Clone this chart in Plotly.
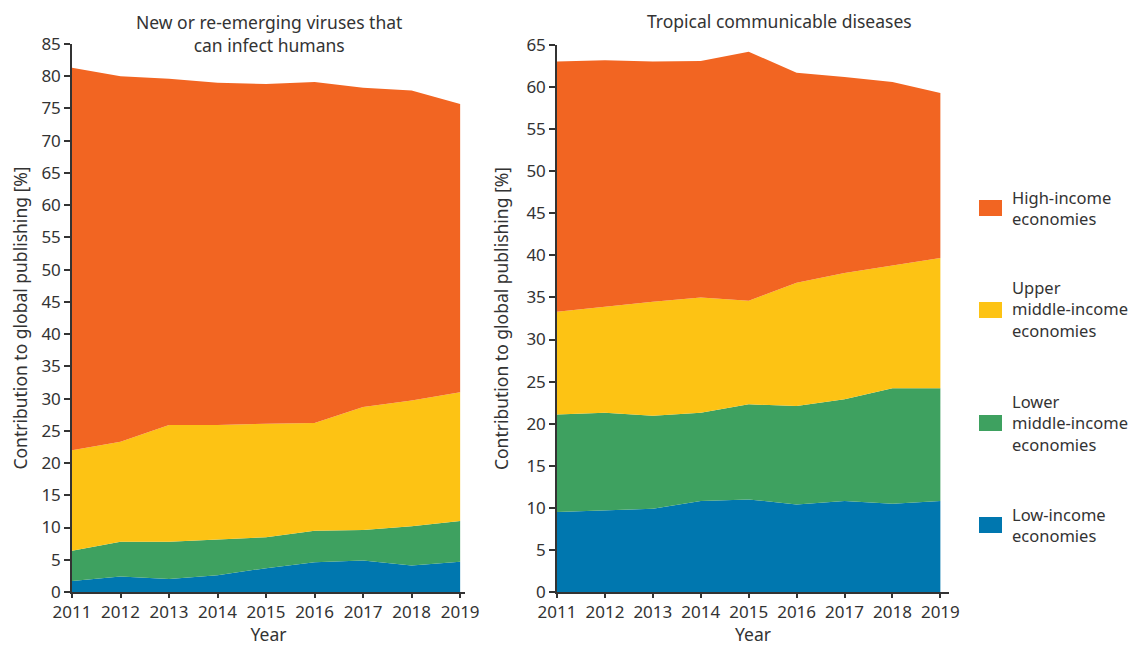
import plotly.graph_objects as go
from plotly.subplots import make_subplots

years = [2011, 2012, 2013, 2014, 2015, 2016, 2017, 2018, 2019]

series_names = ["Low-income economies", "Lower middle-income economies",
                "Upper middle-income economies", "High-income economies"]
legend_labels = ["Low-income<br>economies", "Lower<br>middle-income<br>economies",
                 "Upper<br>middle-income<br>economies", "High-income<br>economies"]
colors = ["#0077AF", "#3EA160", "#FDC314", "#F26522"]

# Left: New or re-emerging viruses that can infect humans (%)
viruses_low = [1.7, 2.4, 2.0, 2.6, 3.7, 4.6, 4.9, 4.1, 4.7]
viruses_lower_mid = [4.7, 5.4, 5.8, 5.6, 4.8, 4.9, 4.7, 6.1, 6.3]
viruses_upper_mid = [15.6, 15.5, 18.1, 17.7, 17.6, 16.7, 19.1, 19.5, 20.0]
viruses_high = [59.3, 56.7, 53.7, 53.1, 52.7, 52.9, 49.5, 48.1, 44.7]

# Right: Tropical communicable diseases (%)
tropical_low = [9.5, 9.7, 9.9, 10.8, 11.0, 10.4, 10.8, 10.5, 10.8]
tropical_lower_mid = [11.6, 11.6, 11.05, 10.5, 11.3, 11.7, 12.1, 13.7, 13.4]
tropical_upper_mid = [12.2, 12.6, 13.55, 13.7, 12.3, 14.65, 15.0, 14.6, 15.5]
tropical_high = [29.75, 29.3, 28.55, 28.1, 29.6, 24.95, 23.3, 21.8, 19.6]

left_titles = "New or re-emerging viruses that<br>can infect humans"
right_title = "Tropical communicable diseases"
y_title = "Contribution to global publishing [%]"
x_title = "Year"

FONT = "Noto Sans"
FS = 17.5
FS_TICK = 17
FS_LEG = 16.5
TXT = "#333333"

fig = make_subplots(rows=1, cols=2, horizontal_spacing=0.105)

left_data = [viruses_low, viruses_lower_mid, viruses_upper_mid, viruses_high]
right_data = [tropical_low, tropical_lower_mid, tropical_upper_mid, tropical_high]

for i, vals in enumerate(left_data):
    fig.add_trace(go.Scatter(x=years, y=vals, name=series_names[i], mode="lines",
                             line=dict(width=0, color=colors[i]), fillcolor=colors[i],
                             stackgroup="left", showlegend=False), row=1, col=1)
for i, vals in enumerate(right_data):
    fig.add_trace(go.Scatter(x=years, y=vals, name=series_names[i], mode="lines",
                             line=dict(width=0, color=colors[i]), fillcolor=colors[i],
                             stackgroup="right", showlegend=False), row=1, col=2)

# the page body adds an 8px offset; compensate so positions match the window
OFF = 8
W, H = 1142 - OFF, 646 - OFF
ML, MT = 72 - OFF, 44 - OFF
MB = H - (592 - OFF)
MR = W - (949 - OFF)
PW = W - ML - MR
PH = H - MT - MB

def px_x(px):
    return (px - OFF - ML) / PW

def px_y(py):
    return (H - MB - (py - OFF)) / PH

axis_common = dict(showline=True, linecolor="#333333", linewidth=1.5, ticks="outside",
                   tickwidth=1.5, tickcolor="#333333", showgrid=False,
                   zeroline=False, automargin=False,
                   tickfont=dict(family=FONT, size=FS_TICK, color=TXT))

fig.update_xaxes(**axis_common, ticklen=4, ticklabelstandoff=0,
                 tickvals=years, ticktext=[str(y) for y in years],
                 title=dict(text=x_title, font=dict(family=FONT, size=FS, color=TXT), standoff=0))
fig.update_xaxes(range=[2011, 2019.1], domain=[0, px_x(465)], row=1, col=1)
fig.update_xaxes(range=[2011, 2019.18], domain=[px_x(557), 1], row=1, col=2)

fig.update_yaxes(**axis_common, ticklen=6, dtick=5,
                 title=dict(text=y_title, font=dict(family=FONT, size=FS, color=TXT), standoff=13))
fig.update_yaxes(range=[0, 85], row=1, col=1)
fig.update_yaxes(range=[0, 65], domain=[0, px_y(45)], row=1, col=2)

annotations = [
    dict(text=left_titles, x=px_x(268.5), y=px_y(33), xref="paper", yref="paper",
         xanchor="center", yanchor="middle", showarrow=False,
         font=dict(family=FONT, size=FS, color=TXT)),
    dict(text=right_title, x=px_x(779), y=px_y(21), xref="paper", yref="paper",
         xanchor="center", yanchor="middle", showarrow=False,
         font=dict(family=FONT, size=FS, color=TXT)),
]

shapes = []
# custom legend: (swatch center y, text center y) in pixels, top to bottom
legend_rows = [(208, 208), (310, 309), (423, 423), (525, 525)]
order = [3, 2, 1, 0]
for (sy, ty), idx in zip(legend_rows, order):
    shapes.append(dict(type="rect", xref="paper", yref="paper",
                       x0=px_x(979), x1=px_x(1002), y0=px_y(sy + 8), y1=px_y(sy - 8),
                       fillcolor=colors[idx], line=dict(width=0)))
    annotations.append(dict(text=legend_labels[idx], x=px_x(1010), y=px_y(ty),
                            xref="paper", yref="paper", xanchor="left", yanchor="middle",
                            align="left", showarrow=False,
                            font=dict(family=FONT, size=FS_LEG, color=TXT)))

fig.update_layout(width=W, height=H, margin=dict(l=ML, r=MR, t=MT, b=MB),
                  plot_bgcolor="white", paper_bgcolor="white",
                  annotations=annotations, shapes=shapes,
                  font=dict(family=FONT, color=TXT))

fig.write_html("out.html")
